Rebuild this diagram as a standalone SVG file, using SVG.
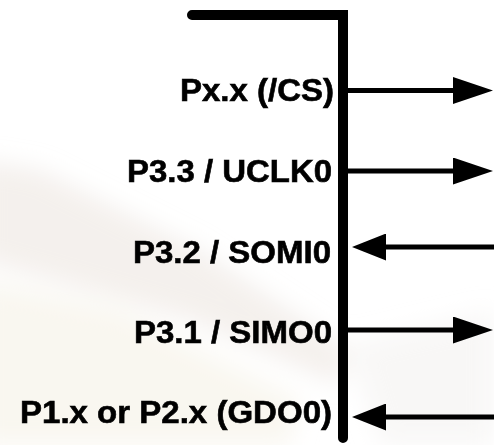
<svg xmlns="http://www.w3.org/2000/svg" width="494" height="445" viewBox="0 0 494 445">
  <defs>
    <style>
      .lbl { font-family: "Liberation Sans", Arial, sans-serif; font-weight: bold; font-size: 31px; fill: #000; stroke: #000; stroke-width: 0.6; text-anchor: end; }
      .wire { stroke: #000; stroke-width: 5; fill: none; }
      .edge { stroke: #000; stroke-width: 10; fill: none; stroke-linecap: round; stroke-linejoin: miter; }
    </style>
    <marker id="headR" viewBox="0 0 40 27" refX="2" refY="13.5" markerWidth="40" markerHeight="27" markerUnits="userSpaceOnUse" orient="auto">
      <path d="M0 0 L40 13.5 L0 27 Z" fill="#000"/>
    </marker>
    <marker id="headL" viewBox="0 0 34 27" refX="2" refY="13.5" markerWidth="34" markerHeight="27" markerUnits="userSpaceOnUse" orient="auto">
      <path d="M0 0 L34 13.5 L0 27 Z" fill="#000"/>
    </marker>
    <filter id="soft" x="-20%" y="-20%" width="140%" height="140%">
      <feGaussianBlur stdDeviation="12"/>
    </filter>
  </defs>

  <rect x="0" y="0" width="494" height="445" fill="#ffffff"/>
  <g id="background" filter="url(#soft)">
    <path d="M-20 160 L40 170 L200 250 L350 350 L340 385 L190 320 L-20 260 Z" fill="#e6ded8" opacity="0.45"/>
    <path d="M-20 280 L120 310 L300 400 L290 445 L-20 445 Z" fill="#f4f0e4" opacity="0.55"/>
    <path d="M350 345 L494 310 L494 445 L380 445 Z" fill="#f0eeea" opacity="0.45"/>
  </g>

  <g id="chip-edge">
    <path class="edge" d="M192 15 H343 V438"/>
  </g>

  <g id="labels">
    <g id="pin-cs"><text class="lbl" x="334" y="100.5" textLength="154" lengthAdjust="spacingAndGlyphs">Px.x (/CS)</text></g>
    <g id="pin-uclk0"><text class="lbl" x="332" y="181.5" textLength="205" lengthAdjust="spacingAndGlyphs">P3.3 / UCLK0</text></g>
    <g id="pin-somi0"><text class="lbl" x="331" y="263" textLength="198" lengthAdjust="spacingAndGlyphs">P3.2 / SOMI0</text></g>
    <g id="pin-simo0"><text class="lbl" x="332" y="342.5" textLength="198" lengthAdjust="spacingAndGlyphs">P3.1 / SIMO0</text></g>
    <g id="pin-gdo0"><text class="lbl" x="332" y="422.5" textLength="312" lengthAdjust="spacingAndGlyphs">P1.x or P2.x (GDO0)</text></g>
  </g>

  <g id="connectors">
    <path class="wire" d="M348 90.5 H455" marker-end="url(#headR)"/>
    <path class="wire" d="M348 171 H455" marker-end="url(#headR)"/>
    <path class="wire" d="M494 247 H384" marker-end="url(#headL)"/>
    <path class="wire" d="M348 330 H455" marker-end="url(#headR)"/>
    <path class="wire" d="M494 417 H384" marker-end="url(#headL)"/>
  </g>
</svg>
